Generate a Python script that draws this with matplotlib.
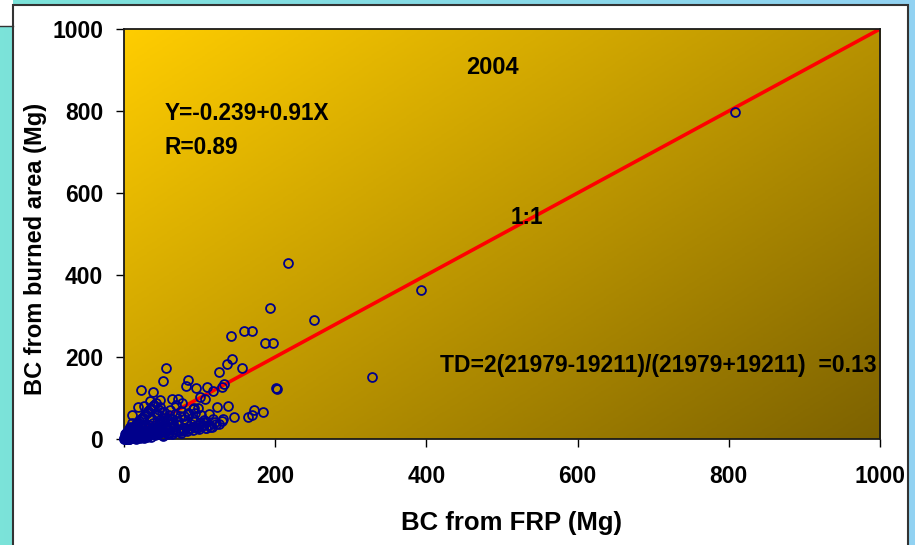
#!/usr/bin/env python3
"""
BC from burned area vs BC from FRP, 2004 scatter with 1:1 line
"""

import matplotlib
matplotlib.use("Agg")
import matplotlib.pyplot as plt
from matplotlib.patches import Rectangle
from matplotlib.colors import LinearSegmentedColormap
import numpy as np

plt.rcParams['font.family'] = ['Liberation Sans', 'DejaVu Sans']

# --- data (Mg) ---
frp_bc = [
    808, 393, 328, 217, 251, 193, 201, 141, 159, 169, 187, 197, 143, 136, 156,
    126, 56, 52, 84, 82, 95, 110, 118, 132, 129, 100, 107, 22, 39, 203, 123,
    138, 131, 146, 164, 169, 172, 184, 120, 109, 105, 99, 92, 88, 78, 71, 64,
    72, 48, 35, 26, 18, 11, 91, 94,
    0.5, 1, 2, 3, 1.5, 4, 5, 6, 2.5, 7, 8, 3, 9, 10, 11, 12, 5, 13, 14, 6,
    15, 16, 17, 8, 18, 19, 20, 10, 21, 22, 23, 12, 24, 25, 26, 27, 14, 28,
    29, 30, 31, 16, 32, 33, 34, 35, 18, 36, 37, 38, 20, 39, 40, 41, 22, 42,
    43, 44, 45, 24, 46, 47, 48, 49, 26, 50, 51, 52, 28, 53, 54, 55, 30, 56,
    57, 58, 32, 59, 60, 62, 34, 63, 64, 66, 36, 67, 68, 70, 38, 72, 74, 75,
    40, 76, 78, 80, 42, 82, 84, 86, 44, 88, 90, 92, 46, 94, 96, 98, 48, 100,
    102, 104, 50, 106, 108, 112, 114, 118, 125, 130,
    4, 7, 9, 12, 15, 3, 6, 11, 14, 17, 2, 5, 8, 13, 19, 21, 24, 27, 10, 16,
    1, 3.5, 6.5, 9.5, 12.5, 18, 23, 29, 33, 37, 41, 45, 52, 58, 65, 20, 25,
    2, 4, 6, 8, 10, 12, 14, 16, 18, 20, 22, 24, 26, 28, 30, 1, 3, 5, 7, 9,
    11, 13, 15, 17, 19, 21, 23, 25, 27, 29, 31, 33, 35, 37, 39, 43, 47, 51,
    55, 59, 63, 67, 71, 75, 79, 83, 87, 91, 95, 99, 103, 108, 113, 117, 122,
    61, 69, 77, 85, 93, 44, 53, 62, 71, 80,
    0.2, 1.2, 2.2, 3.2, 4.2, 5.2, 6.2, 7.2, 8.2, 9.2, 10.5, 11.5, 12.8, 13.8,
    15.5, 17.5, 19.5, 21.5, 24.5, 27.5,
]
ba_bc = [
    798, 363, 151, 429, 290, 320, 124, 251, 263, 263, 235, 235, 194, 182, 174,
    163, 174, 142, 144, 129, 125, 126, 117, 134, 128, 102, 98, 119, 114, 123,
    77, 80, 50, 54, 54, 59, 71, 66, 41, 42, 42, 34, 30, 26, 22, 19, 98,
    98, 95, 92, 81, 79, 59, 72, 63,
    0.3, 2, 1, 4, 6, 2, 5, 1, 9, 7, 3, 12, 10, 5, 13, 8, 15, 2, 11, 18,
    16, 6, 20, 22, 12, 4, 17, 25, 23, 9, 14, 28, 26, 19, 3, 11, 32, 30,
    22, 7, 16, 36, 27, 34, 12, 21, 40, 5, 30, 17, 44, 38, 25, 10, 48, 33,
    19, 42, 28, 52, 14, 36, 47, 23, 56, 31, 8, 40, 60, 52, 18, 35, 64, 27,
    45, 12, 68, 58, 22, 38, 72, 50, 16, 30, 76, 62, 25, 44, 80, 34, 55, 20,
    84, 68, 28, 48, 88, 40, 24, 60, 62, 36, 52, 30, 70, 45, 28, 75, 78, 38,
    58, 33, 66, 46, 27, 62, 30, 50, 36, 44,
    10, 3, 14, 7, 20, 15, 24, 4, 9, 26, 12, 18, 30, 6, 13, 35, 8, 21, 38, 2,
    11, 17, 1, 27, 5, 40, 14, 32, 11, 50, 25, 58, 18, 46, 38, 6, 52,
    5, 1, 8, 3, 6, 2, 9, 4, 7, 13, 5, 16, 10, 19, 8, 3, 0.5, 1.5, 4, 2.5,
    6, 3, 8, 5, 11, 7, 14, 9, 17, 12, 6, 20, 10, 24, 15, 12, 18, 9, 21,
    14, 11, 17, 20, 15, 23, 19, 26, 22, 29, 25, 31, 27, 34, 30, 36,
    70, 82, 88, 64, 76, 58, 66, 48, 45, 57,
    3, 0.8, 5.5, 2, 7.5, 4, 1, 10, 6, 3.5, 2, 8, 4.5, 12, 1, 6, 9.5, 3, 14, 7,
]
one_to_one = [0, 1000]

xticks = [0, 200, 400, 600, 800, 1000]
yticks = [0, 200, 400, 600, 800, 1000]

W, H = 915, 545
fig = plt.figure(figsize=(W / 100, H / 100), dpi=100)

# --- slide-like frame behind the chart ---
bg = fig.add_axes([0, 0, 1, 1], zorder=-10)
frame_cmap = LinearSegmentedColormap.from_list('frame', ['#7be3d9', '#92d2f2'])
bg.imshow(np.linspace(0, 1, 256)[None, :], cmap=frame_cmap, aspect='auto',
          extent=[0, W, H, 0])
bg.add_patch(Rectangle((0, 0), 13, 26, facecolor='white', edgecolor='none'))
bg.plot([0, 13], [26, 26], color='#333333', lw=1)
bg.add_patch(Rectangle((13, 5), 895, H, facecolor='white',
                       edgecolor='#333333', lw=1.5))
bg.set_xlim(0, W)
bg.set_ylim(H, 0)
bg.axis('off')

# --- main axes ---
ax = fig.add_axes([124 / W, 1 - 439 / H, 756 / W, 410 / H])

gold = LinearSegmentedColormap.from_list('gold', ['#ffcd00', '#7d6200'])
gx, gy = np.meshgrid(np.linspace(0, 1, 300), np.linspace(1, 0, 300))
ax.imshow(gx * 0.55 + (1 - gy) * 0.45, cmap=gold, aspect='auto',
          extent=[0, 1000, 0, 1000], origin='upper', zorder=0)

ax.plot(one_to_one, one_to_one, color='#ff0000', lw=2.6, zorder=2)
ax.plot(frp_bc, ba_bc, linestyle='none', marker='o', markersize=6.4,
        markerfacecolor='none', markeredgecolor='#00008b', markeredgewidth=1.3,
        zorder=3, clip_on=False)

ax.set_xlim(0, 1000)
ax.set_ylim(0, 1000)
ax.set_xticks(xticks)
ax.set_yticks(yticks)
ax.tick_params(direction='out', length=6, width=1, labelsize=16.5)
ax.tick_params(axis='x', pad=13)
ax.tick_params(axis='y', pad=9)
for lab in ax.get_xticklabels() + ax.get_yticklabels():
    lab.set_fontweight('bold')
for sp in ax.spines.values():
    sp.set_linewidth(1.3)
    sp.set_color('#1a1a1a')

ax.set_xlabel('BC from FRP (Mg)', fontsize=18.5, fontweight='bold')
ax.set_ylabel('BC from burned area (Mg)', fontsize=17, fontweight='bold')
ax.xaxis.set_label_coords(0.513, -0.175)
ax.yaxis.set_label_coords(-0.102, 0.463)

txt = dict(fontweight='bold', color='black', zorder=4)
ax.text(488, 905, '2004', ha='center', va='center', fontsize=17, **txt)
ax.text(54, 795, 'Y=-0.239+0.91X', ha='left', va='center', fontsize=16.3, **txt)
ax.text(54, 710, 'R=0.89', ha='left', va='center', fontsize=16.3, **txt)
ax.text(533, 541, '1:1', ha='center', va='center', fontsize=16.3, **txt)
ax.text(418, 180, 'TD=2(21979-19211)/(21979+19211)  =0.13', ha='left',
        va='center', fontsize=16.5, **txt)

fig.savefig('out.png', dpi=100)
plt.close(fig)
